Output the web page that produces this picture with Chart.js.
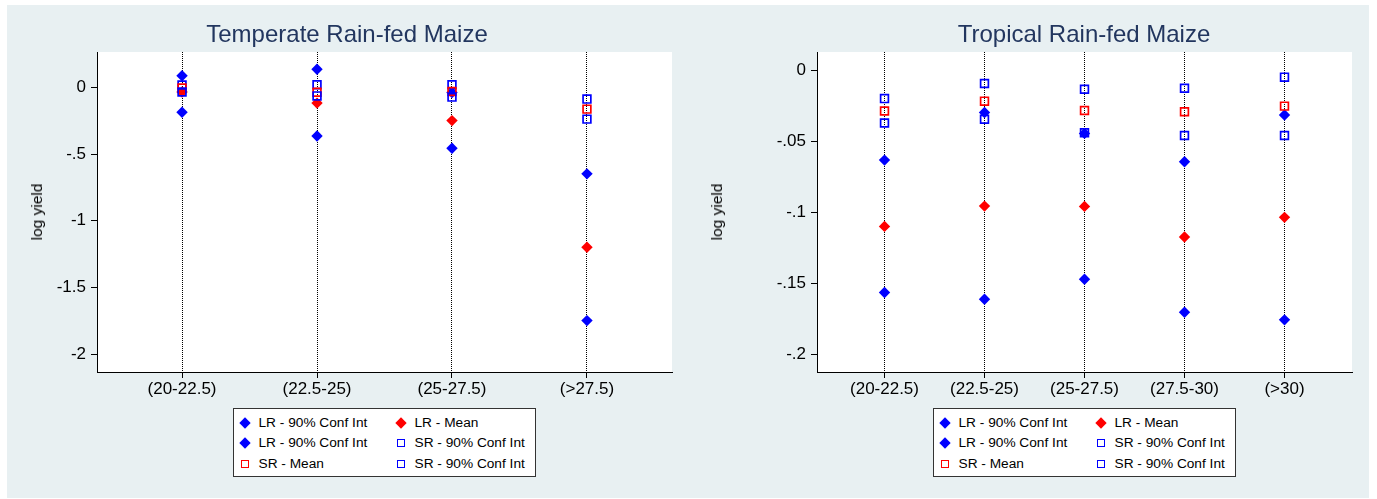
<!DOCTYPE html>
<html>
<head>
<meta charset="utf-8">
<script src="https://cdn.jsdelivr.net/npm/chart.js@4.4.1/dist/chart.umd.min.js"></script>
<style>
  body { margin: 0; background: #fff; font-family: Arial, "Liberation Sans", sans-serif; }
  #wrap { position: relative; width: 1377px; height: 499px; overflow: hidden; }
  .bg { position: absolute; left: 7px; top: 5px; width: 1362px; height: 493px; background: #e8f0f2; }
  canvas { position: absolute; top: 5px; }
  .title { position: absolute; top: 22px; font-size: 24px; line-height: 24px; color: #22365f; white-space: nowrap; transform: translateX(-50%); }
  .ytitle { position: absolute; font-size: 15.5px; font-weight: normal; line-height: 16px; color: #000; white-space: nowrap; transform: translate(-50%, -50%) rotate(-90deg); }
  .legend { position: absolute; top: 408px; width: 301px; height: 67px; border: 1px solid #333; background: #fff; }
  .item { position: absolute; font-size: 13.7px; line-height: 16px; white-space: nowrap; }
  .mk { position: absolute; box-sizing: border-box; }
</style>
</head>
<body>
<div id="wrap">
  <div class="bg"></div>
  <canvas id="cTemp" width="681" height="493" style="left:7px"></canvas>
  <canvas id="cTrop" width="681" height="493" style="left:688px"></canvas>
  <div class="title" style="left:347px">Temperate Rain-fed Maize</div>
  <div class="title" style="left:1084px">Tropical Rain-fed Maize</div>
  <div class="ytitle" style="left:37px;top:212px">log yield</div>
  <div class="ytitle" style="left:717px;top:212px">log yield</div>
  <div class="legend" id="legTemp" style="left:233px"></div>
  <div class="legend" id="legTrop" style="left:933px"></div>
</div>
<script>
// categories (temperature bins)
const tempCats = ["(20-22.5)", "(22.5-25)", "(25-27.5)", "(>27.5)"];
const tropCats = ["(20-22.5)", "(22.5-25)", "(25-27.5)", "(27.5-30)", "(>30)"];

// y axis ticks and their labels
const tempYTicks = [0, -0.5, -1, -1.5, -2];
const tempYLabels = ["0", "-.5", "-1", "-1.5", "-2"];
const tropYTicks = [0, -0.05, -0.1, -0.15, -0.2];
const tropYLabels = ["0", "-.05", "-.1", "-.15", "-.2"];

// series names, in plotting order
const seriesNames = ["LR - 90% Conf Int", "LR - Mean", "LR - 90% Conf Int",
                     "SR - 90% Conf Int", "SR - Mean", "SR - 90% Conf Int"];

// temperate maize
const tempLrLow  = [-0.187, -0.364, -0.456, -1.748];
const tempLrMean = [-0.035, -0.118, -0.249, -1.198];
const tempLrHigh = [0.087, 0.136, -0.039, -0.648];
const tempSrHigh = [0.017, 0.019, 0.019, -0.088];
const tempSrMean = [-0.005, -0.036, -0.031, -0.163];
const tempSrLow  = [-0.035, -0.064, -0.073, -0.238];

// tropical maize
const tropLrLow  = [-0.1565, -0.1613, -0.1472, -0.1704, -0.1758];
const tropLrMean = [-0.110, -0.0957, -0.0959, -0.1175, -0.1036];
const tropLrHigh = [-0.0633, -0.0298, -0.0445, -0.0645, -0.0316];
const tropSrHigh = [-0.020, -0.0094, -0.0134, -0.0127, -0.0049];
const tropSrMean = [-0.0287, -0.0218, -0.0284, -0.0293, -0.0253];
const tropSrLow  = [-0.0372, -0.0345, -0.044, -0.046, -0.046];

const BLUE = "#0000ff", RED = "#ff0000";
const markers = [
  { shape: "diamond", color: BLUE },
  { shape: "diamond", color: RED },
  { shape: "diamond", color: BLUE },
  { shape: "square", color: BLUE },
  { shape: "square", color: RED },
  { shape: "square", color: BLUE }
];

const font = { family: "Arial, 'Liberation Sans', sans-serif", size: 17 };

const plotBg = {
  id: "plotBg",
  beforeDraw(chart) {
    const { ctx, chartArea: a } = chart;
    ctx.save();
    ctx.fillStyle = "#fff";
    ctx.fillRect(a.left, a.top, a.right - a.left, a.bottom - a.top);
    ctx.restore();
  }
};

function makeChart(id, cats, series, yTicks, yLabels, yMin, yMax, padLeft, padRight) {
  const datasets = series.map((vals, i) => {
    const m = markers[i];
    const dia = m.shape === "diamond";
    return {
      label: seriesNames[i],
      data: vals.map((v, j) => ({ x: j + 1, y: v })),
      order: series.length - i,
      pointStyle: dia ? "rectRot" : "rect",
      pointRadius: dia ? 5.7 : 5.5,
      backgroundColor: dia ? m.color : "rgba(0,0,0,0)",
      borderColor: m.color,
      borderWidth: dia ? 0 : 1.7
    };
  });

  const side = cats.length === 4 ? 0.63 : 0.675;
  return new Chart(document.getElementById(id), {
    type: "scatter",
    data: { datasets },
    options: {
      responsive: false,
      animation: false,
      layout: { padding: { left: padLeft, right: padRight, top: 47, bottom: 86 } },
      plugins: { legend: { display: false }, tooltip: { enabled: false } },
      scales: {
        x: {
          type: "linear",
          min: 1 - side,
          max: cats.length + side,
          afterBuildTicks: s => { s.ticks = cats.map((c, j) => ({ value: j + 1 })); },
          afterFit: s => { s.height = 40; },
          ticks: { callback: (v, i) => cats[i], color: "#000", font, padding: 1, maxRotation: 0, autoSkip: false },
          grid: { color: "#000", lineWidth: 1, tickLength: 6, tickColor: "#000", tickBorderDash: [] },
          border: { color: "#000", width: 1, dash: [1, 1] }
        },
        y: {
          min: yMin,
          max: yMax,
          afterBuildTicks: s => { s.ticks = yTicks.map(v => ({ value: v })); },
          afterFit: s => { s.width = 60; },
          ticks: { callback: (v, i) => yLabels[i], color: "#000", font, padding: 5 },
          grid: { drawOnChartArea: false, tickLength: 6, tickColor: "#000" },
          border: { color: "#000", width: 1 }
        }
      }
    },
    plugins: [plotBg]
  });
}

makeChart("cTemp", tempCats,
  [tempLrLow, tempLrMean, tempLrHigh, tempSrHigh, tempSrMean, tempSrLow],
  tempYTicks, tempYLabels, -2.133, 0.265, 30, 16);

makeChart("cTrop", tropCats,
  [tropLrLow, tropLrMean, tropLrHigh, tropSrHigh, tropSrMean, tropSrLow],
  tropYTicks, tropYLabels, -0.2125, 0.0128, 69, 17);

// legend: two columns, filled row by row
function buildLegend(id) {
  const box = document.getElementById(id);
  const rowsY = [14, 34, 55];
  seriesNames.forEach((name, i) => {
    const row = Math.floor(i / 2), col = i % 2;
    const cx = col === 0 ? 10.5 : 166.5;
    const cy = rowsY[row];
    const m = markers[i];
    const mk = document.createElement("div");
    mk.className = "mk";
    if (m.shape === "diamond") {
      Object.assign(mk.style, { width: "8px", height: "8px", left: (cx - 4) + "px", top: (cy - 4) + "px",
        background: m.color, transform: "rotate(45deg)" });
    } else {
      Object.assign(mk.style, { width: "8px", height: "8px", left: (cx - 4) + "px", top: (cy - 4) + "px",
        border: "1.6px solid " + m.color });
    }
    box.appendChild(mk);
    const t = document.createElement("div");
    t.className = "item";
    t.textContent = name;
    t.style.left = (cx + 14) + "px";
    t.style.top = (cy - 8) + "px";
    box.appendChild(t);
  });
}
buildLegend("legTemp");
buildLegend("legTrop");
</script>
</body>
</html>
